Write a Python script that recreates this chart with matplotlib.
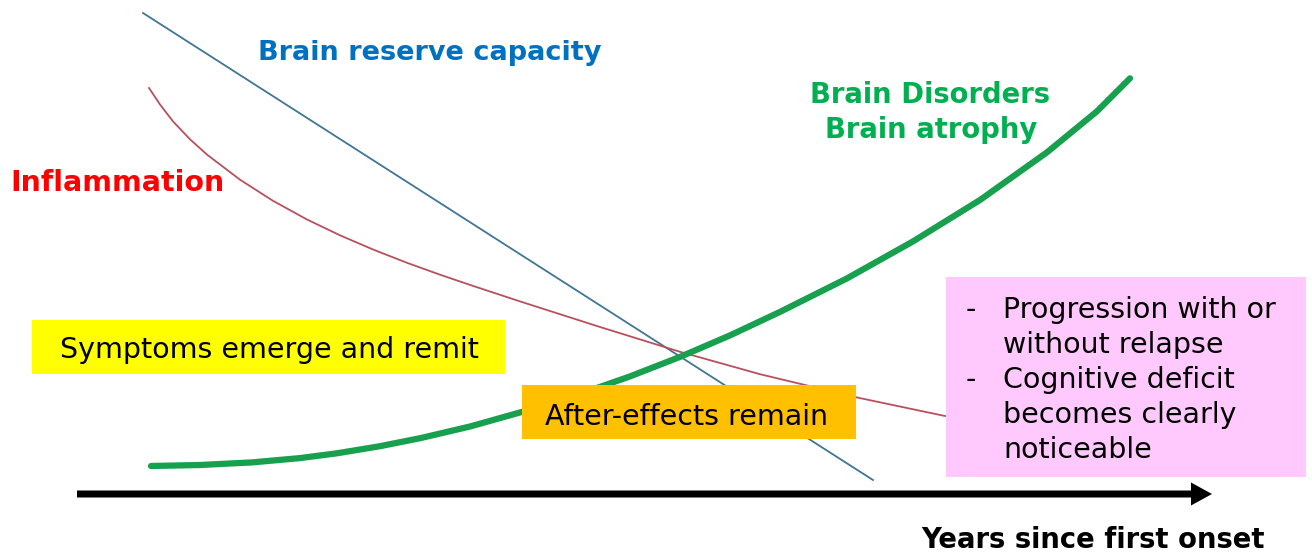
import matplotlib
matplotlib.use("Agg")
import matplotlib.pyplot as plt
import matplotlib.patches as patches

plt.rcParams['font.family'] = ['DejaVu Sans']

# curves in pixel units (x right, y down)
reserve_x = [143, 873]
reserve_y = [13, 480]

inflam_x = [149, 160, 173, 190, 207, 240, 273, 307, 340, 373, 407, 440, 473, 520, 600, 680, 760, 858, 945]
inflam_y = [88, 104.5, 121.4, 139.3, 154.6, 179.7, 200.8, 219.5, 235.3, 249.5, 262.8, 274.7, 285.9,
            301.4, 327, 351.8, 374.2, 397.7, 416]

atrophy_x = [151, 200, 252, 300, 337, 380, 421, 470, 522, 580, 630, 680, 730, 780, 847, 913, 980, 1047, 1097, 1130]
atrophy_y = [466, 465, 462.4, 458.1, 453.3, 446.2, 438, 426.5, 411.9, 393.9, 376.4, 356.9, 335.4,
             311.9, 278.4, 241.4, 200, 152.3, 111.3, 78.3]

# boxes: (left, top, right, bottom), colour
boxes = [
    ((32, 320, 505, 374), "#ffff00"),
    ((522, 385, 856, 439), "#ffc000"),
    ((946, 277, 1306, 477), "#ffc9fd"),
]

pink_lines = ["Progression with or", "without relapse", "Cognitive deficit",
              "becomes clearly", "noticeable"]
pink_dash_rows = [0, 2]

fig = plt.figure(figsize=(13.12, 5.53), dpi=100)
ax = fig.add_axes([0, 0, 1, 1])
ax.set_xlim(0, 1312)
ax.set_ylim(553, 0)
ax.axis("off")

# lines
ax.plot(reserve_x, reserve_y, color="#3f7595", lw=1.3, zorder=2)
ax.plot(inflam_x, inflam_y, color="#b9505c", lw=1.3, solid_joinstyle="round", zorder=2)
ax.plot(atrophy_x, atrophy_y, color="#17a04e", lw=4.5,
        solid_capstyle="round", solid_joinstyle="round", zorder=3)

for (l, t, r, b), c in boxes:
    ax.add_patch(patches.Rectangle((l, t), r - l, b - t, color=c, lw=0, zorder=4))

# time axis
ax.arrow(77, 494, 1135, 0, width=7, head_width=23, head_length=21,
         length_includes_head=True, color="black", lw=0, zorder=5)

ax.text(258, 60, "Brain reserve capacity", color="#0070c0", fontsize=19.5,
        fontweight="bold", va="baseline", zorder=6)
ax.text(10, 191, "Inflammation", color="#ff0000", fontsize=20.5,
        fontweight="bold", va="baseline", zorder=6)
ax.text(930, 103, "Brain Disorders", color="#00b050", fontsize=19.8,
        fontweight="bold", ha="center", va="baseline", zorder=6)
ax.text(931, 138, "Brain atrophy", color="#00b050", fontsize=19.8,
        fontweight="bold", ha="center", va="baseline", zorder=6)
ax.text(921, 548, "Years since first onset", color="black", fontsize=19.8,
        fontweight="bold", va="baseline", zorder=6)

fs = 20.5
ax.text(60, 358, "Symptoms emerge and remit", color="black", fontsize=fs,
        va="baseline", zorder=6)
ax.text(545, 425, "After-effects remain", color="black", fontsize=fs,
        va="baseline", zorder=6)

for i, line in enumerate(pink_lines):
    y = 318 + 35 * i
    if i in pink_dash_rows:
        ax.text(966, y, "-", color="black", fontsize=fs, va="baseline", zorder=6)
    ax.text(1003, y, line, color="black", fontsize=fs, va="baseline", zorder=6)

fig.savefig("out.png", dpi=100)
